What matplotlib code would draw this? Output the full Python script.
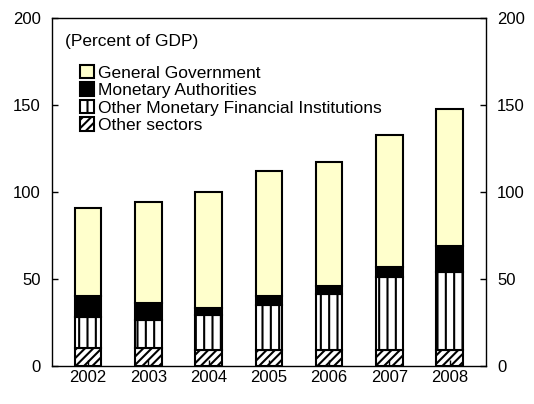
import matplotlib
matplotlib.use("Agg")
import matplotlib.pyplot as plt
import numpy as np

years = ["2002","2003","2004","2005","2006","2007","2008"]
other_sectors = [10, 10, 9, 9, 9, 9, 9]
omfi = [18, 16, 20, 26, 32, 42, 45]
monetary = [12, 10, 4, 5, 5, 6, 15]
general_gov = [51, 58, 67, 72, 71, 76, 79]

plt.rcParams['font.family'] = ['Liberation Sans', 'DejaVu Sans']
plt.rcParams['hatch.linewidth'] = 1.5
fig = plt.figure(figsize=(5.34, 4.04), dpi=100)
ax = fig.add_axes([0.097, 0.095, 0.813, 0.86])
x = np.arange(len(years))
w = 0.44
b = np.zeros(len(years))
series = [(other_sectors, "white", "////", "Other sectors"),
          (omfi, "white", "||", "Other Monetary Financial Institutions"),
          (monetary, "black", None, "Monetary Authorities"),
          (general_gov, "#FFFFCC", None, "General Government")]
handles = []
for vals, c, h, lab in series:
    v = np.array(vals)
    bar = ax.bar(x, v, w, bottom=b, color=c, edgecolor="black", linewidth=1.5,
                 hatch=h, label=lab)
    handles.append(bar)
    b += v
ax.set_ylim(0, 200)
ax.set_xlim(-0.6, 6.6)
ax.set_yticks([0, 50, 100, 150, 200])
ax.set_xticks(x)
ax.set_xticklabels(years)
ax.tick_params(axis='both', labelsize=12, direction='in', length=4, width=1, right=True, labelright=True)
ax.tick_params(axis='y', pad=8)
for s in ax.spines.values():
    s.set_linewidth(1)
ax.text(0.03, 0.955, "(Percent of GDP)", transform=ax.transAxes, fontsize=12.5, va='top')
ax.legend(handles[::-1], [s[3] for s in series][::-1], loc='upper left',
          bbox_to_anchor=(0.05, 0.885), frameon=False, fontsize=12.5,
          handlelength=0.8, handleheight=0.8, handletextpad=0.2, labelspacing=0.1, borderaxespad=0)
fig.savefig("out.png", dpi=100)
